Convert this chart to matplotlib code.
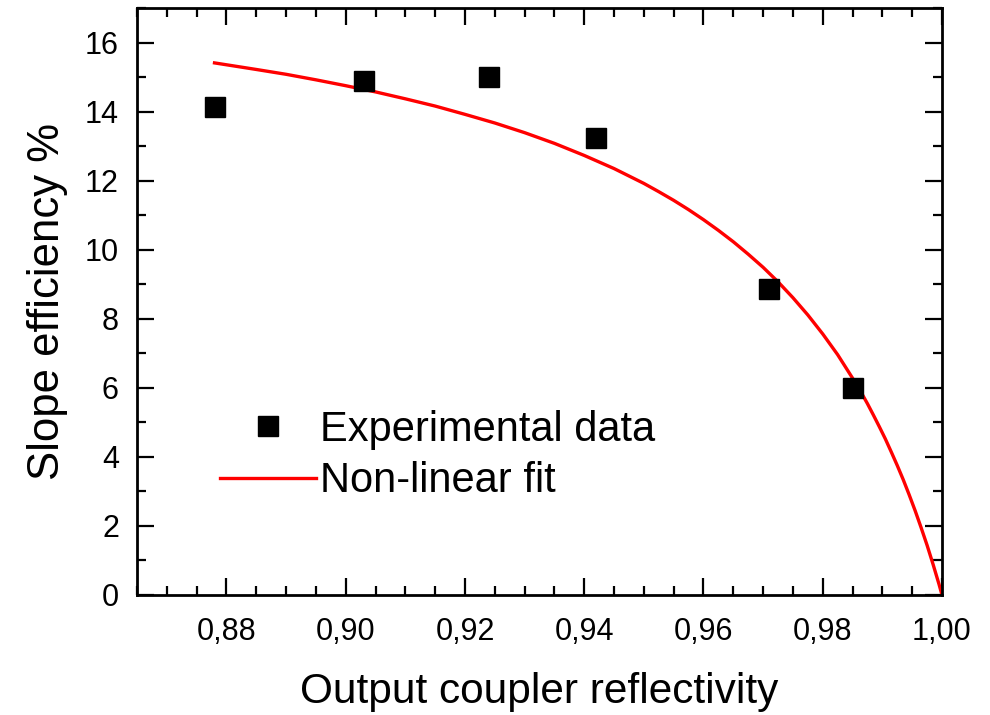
import matplotlib
matplotlib.use("Agg")
import matplotlib.pyplot as plt
from matplotlib.ticker import MultipleLocator, FuncFormatter

# Experimental data
reflectivity = [0.878, 0.903, 0.924, 0.942, 0.971, 0.985]
slope_eff = [14.12, 14.88, 15.00, 13.23, 8.87, 6.00]

# Non-linear fit curve
fit_r = [0.878, 0.885, 0.890, 0.895, 0.900, 0.905, 0.910, 0.915, 0.920, 0.925,
         0.930, 0.935, 0.940, 0.945, 0.950, 0.9525, 0.955, 0.9575, 0.960, 0.9625,
         0.965, 0.9675, 0.970, 0.9725, 0.975, 0.9775, 0.980, 0.9825, 0.985, 0.9865,
         0.9875, 0.9885, 0.9895, 0.9905, 0.9915, 0.9925, 0.9935, 0.9945, 0.9955,
         0.9965, 0.9975, 0.9985, 0.9995, 1.000]
fit_eff = [15.41, 15.22, 15.08, 14.92, 14.75, 14.57, 14.37, 14.16, 13.92, 13.67,
           13.39, 13.08, 12.73, 12.35, 11.92, 11.68, 11.43, 11.16, 10.87, 10.56,
           10.23, 9.87, 9.49, 9.07, 8.61, 8.11, 7.56, 6.96, 6.28, 5.85,
           5.54, 5.21, 4.87, 4.52, 4.14, 3.75, 3.34, 2.90, 2.44,
           1.95, 1.44, 0.89, 0.31, 0.00]

plt.rcParams['font.family'] = ['Liberation Sans', 'DejaVu Sans']

fig = plt.figure(figsize=(9.9, 7.15), dpi=100)
ax = fig.add_axes([137/990, 1-595/715, (942-137)/990, (595-8)/715])

ax.plot(fit_r, fit_eff, color='#ff0000', lw=2.4, label='Non-linear fit', zorder=2,
        solid_joinstyle='round')
ax.plot(reflectivity, slope_eff, ls='none', marker='s', ms=14, color='black',
        label='Experimental data', zorder=3)

ax.set_xlim(0.865, 1.0)
ax.set_ylim(0, 17)
ax.xaxis.set_major_locator(MultipleLocator(0.02))
ax.xaxis.set_minor_locator(MultipleLocator(0.005))
ax.yaxis.set_major_locator(MultipleLocator(2))
ax.yaxis.set_minor_locator(MultipleLocator(1))
ax.xaxis.set_major_formatter(FuncFormatter(lambda v, p: f"{v:.2f}".replace('.', ',')))
ax.yaxis.set_major_formatter(FuncFormatter(lambda v, p: f"{v:.0f}"))

for s in ax.spines.values():
    s.set_linewidth(2.0)
ax.tick_params(which='both', direction='in', top=True, right=True, width=1.6)
ax.tick_params(which='major', length=12)
ax.tick_params(which='minor', length=6.5)
ax.tick_params(axis='x', which='major', labelsize=22, pad=15.5)
ax.tick_params(axis='y', which='major', labelsize=22, pad=13)

ax.set_xlabel('Output coupler reflectivity', fontsize=30.5, labelpad=18.5)
ax.set_ylabel('Slope efficiency %', fontsize=31.5, labelpad=12)

handles, labels = ax.get_legend_handles_labels()
leg = ax.legend(handles[::-1], labels[::-1], loc='center left',
                bbox_to_anchor=(0.103, 0.2377), frameon=False, fontsize=30,
                handlelength=2.3, handletextpad=0.1, labelspacing=0.27,
                borderpad=0, borderaxespad=0)

fig.savefig('out.png', dpi=100)
